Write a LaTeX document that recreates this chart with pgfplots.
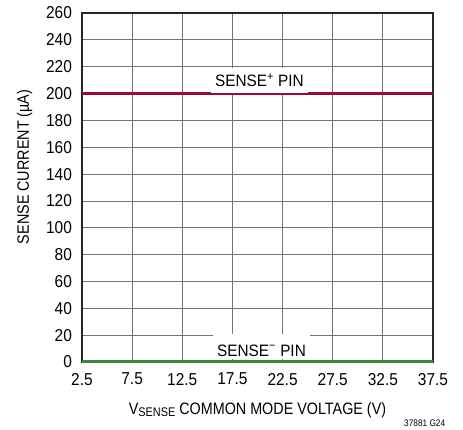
\documentclass[border=0pt]{standalone}
\usepackage{fontspec}
\setmainfont{Liberation Sans}
\newfontfamily\condlab{Liberation Sans}[FakeStretch=0.87]
\newfontfamily\condpin{Liberation Sans}[FakeStretch=0.93]
\newfontfamily\condtick{Liberation Sans}[FakeStretch=0.9]
\usepackage{pgfplots}
\pgfplotsset{compat=1.18}
\definecolor{plusred}{RGB}{158,10,50}
\definecolor{minusgreen}{RGB}{58,138,62}
\begin{document}
\begin{tikzpicture}
\useasboundingbox (-82pt,-67pt) rectangle (381pt,362pt);
\begin{axis}[
  at={(0,0)}, anchor=south west,
  scale only axis, width=351pt, height=349pt,
  xmin=2.5, xmax=37.5, ymin=0, ymax=260,
  xtick={2.5,7.5,...,37.5}, ytick={0,20,...,260},
  grid=major, major grid style={black!55, line width=0.8pt},
  major tick length=0pt,
  axis line style={black!85, line width=1.1pt},
  tick label style={font=\condtick\fontsize{17.2}{18}\selectfont},
  /pgf/number format/assume math mode=true,
  xticklabel={\pgfmathprintnumber[fixed,precision=1,fixed zerofill]{\tick}},
  xticklabel style={yshift=-7.5pt},
  yticklabel style={xshift=-6.5pt},
  label style={font=\condlab\fontsize{16.5}{18}\selectfont},
  xlabel={V\raisebox{-2.7pt}{\fontsize{12.5}{13}\selectfont SENSE} COMMON MODE VOLTAGE (V)},
  xlabel style={at={(axis description cs:0.5,-0.149)}, anchor=base},
  ylabel={SENSE CURRENT (µA)},
  ylabel style={at={(axis description cs:-0.151,0.559)}, anchor=base, rotate=0},
  clip=false,
]
\addplot[plusred, line width=3pt] coordinates {(2.5,200) (37.5,200)};
\addplot[minusgreen, line width=3pt] coordinates {(2.5,0.3) (37.5,0.3)};
\node[anchor=base, fill=white, inner xsep=4pt, inner ysep=0pt, text height=19pt, text depth=6pt,
  font=\condpin\fontsize{16.5}{18}\selectfont] at (axis cs:20.2,204.9) {SENSE\textsuperscript{+} PIN};
\node[anchor=base, fill=white, inner xsep=4pt, inner ysep=0pt, text height=22pt, text depth=3pt,
  font=\condpin\fontsize{16.5}{18}\selectfont] at (axis cs:20.4,4.47) {SENSE\textsuperscript{−} PIN};
\end{axis}
\node[anchor=base west, font=\condlab\fontsize{9.5}{10}\selectfont] at (318.7pt,-64pt) {37881 G24};
\end{tikzpicture}
\end{document}
